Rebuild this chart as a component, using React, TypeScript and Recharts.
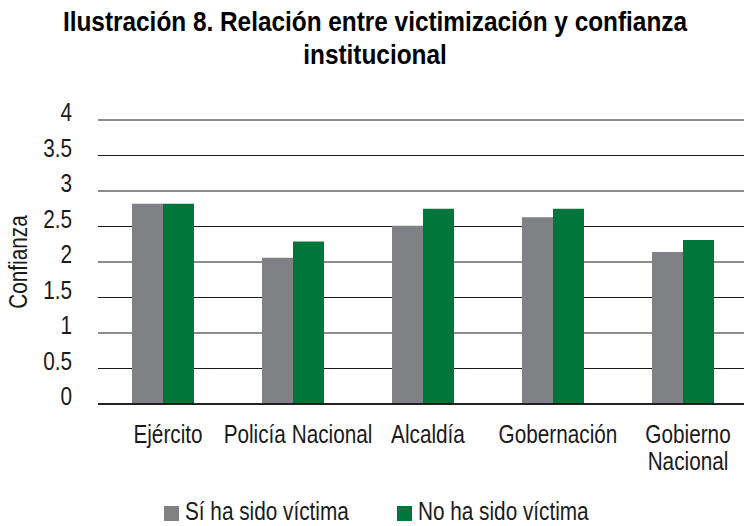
import { BarChart, Bar, XAxis, YAxis, CartesianGrid, Legend, Label } from "recharts";

const categories = ["Ejército", "Policía Nacional", "Alcaldía", "Gobernación", "Gobierno\nNacional"];
const siVictima = [2.82, 2.06, 2.51, 2.63, 2.14];
const noVictima = [2.82, 2.29, 2.75, 2.75, 2.31];
const yTicks = [0, 0.5, 1, 1.5, 2, 2.5, 3, 3.5, 4];
const seriesNames = ["Sí ha sido víctima", "No ha sido víctima"];
const titleLines = ["Ilustración 8. Relación entre victimización y confianza", "institucional"];

const GRAY = "#808184";
const GREEN = "#00763A";
const TXT = "#1a1a1a";
const FONT = "'Liberation Sans', Arial, sans-serif";
const SQ = 0.83; // horizontal squeeze, condensed look

const data = categories.map((name, i) => ({
  name,
  si: siVictima[i],
  no: noVictima[i],
}));

const XTick = ({ x, y, payload }: any) => {
  const lines = String(payload.value).split("\n");
  return (
    <g transform={`translate(${x + 5},${y + 31}) scale(${SQ},1)`}>
      <text x={0} y={0} textAnchor="middle" fontFamily={FONT} fontSize={25} fill={TXT}>
        {lines.map((l, i) => (
          <tspan key={i} x={0} dy={i === 0 ? 0 : 27}>
            {l}
          </tspan>
        ))}
      </text>
    </g>
  );
};

const YTick = ({ y, payload }: any) => (
  <g transform={`translate(72,${y + 1}) scale(${SQ},1)`}>
    <text x={0} y={0} textAnchor="end" fontFamily={FONT} fontSize={25} fill={TXT}>
      {String(payload.value)}
    </text>
  </g>
);

const LegendContent = () => {
  const items = [
    { name: seriesNames[0], color: GRAY, x: 164 },
    { name: seriesNames[1], color: GREEN, x: 397 },
  ];
  return (
    <svg width={760} height={40} style={{ display: "block" }}>
      {items.map((it) => (
        <g key={it.name}>
          <rect x={it.x} y={20} width={15} height={15} fill={it.color} />
          <g transform={`translate(${it.x + 21},34) scale(${SQ},1)`}>
            <text x={0} y={0} fontFamily={FONT} fontSize={25} fill={TXT}>
              {it.name}
            </text>
          </g>
        </g>
      ))}
    </svg>
  );
};

export default function App() {
  return (
    <div style={{ position: "fixed", top: 0, left: 0, width: 744, height: 526, overflow: "hidden", background: "#fff" }}>
      {titleLines.map((t, i) => (
        <div
          key={t}
          style={{
            position: "absolute",
            top: 5 + i * 33,
            left: 0,
            width: 750,
            textAlign: "center",
            fontFamily: FONT,
            fontWeight: "bold",
            fontSize: 28,
            lineHeight: "33px",
            color: "#000",
            whiteSpace: "nowrap",
            transform: "scaleX(0.87)",
            transformOrigin: "375px 0",
          }}
        >
          {t}
        </div>
      ))}
      <BarChart
        width={760}
        height={526}
        data={data}
        margin={{ top: 120, right: 12, bottom: 0, left: 0 }}
        barGap={0}
        style={{ position: "absolute", top: 0, left: 0 }}
      >
        <CartesianGrid vertical={false} stroke={TXT} />
        <XAxis
          dataKey="name"
          interval={0}
          height={82}
          tickLine={false}
          axisLine={{ stroke: "#000", strokeWidth: 1.5 }}
          tick={<XTick />}
        />
        <YAxis
          type="number"
          domain={[0, 4]}
          ticks={yTicks}
          width={98}
          axisLine={false}
          tickLine={false}
          tick={<YTick />}
        >
          <Label
            content={() => (
              <g transform={`translate(27,262) rotate(-90) scale(${SQ},1)`}>
                <text x={0} y={0} textAnchor="middle" fontFamily={FONT} fontSize={25} fill={TXT}>
                  Confianza
                </text>
              </g>
            )}
          />
        </YAxis>
        <Legend verticalAlign="bottom" height={40} content={<LegendContent />} />
        <Bar dataKey="si" name={seriesNames[0]} fill={GRAY} barSize={31} isAnimationActive={false} />
        <Bar dataKey="no" name={seriesNames[1]} fill={GREEN} barSize={31} isAnimationActive={false} />
      </BarChart>
    </div>
  );
}
